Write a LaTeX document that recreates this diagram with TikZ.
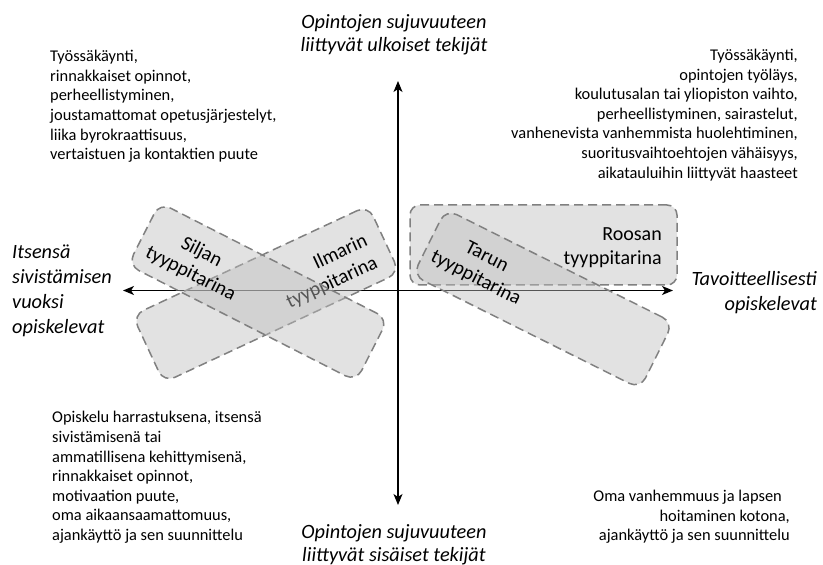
\documentclass[tikz,border=0pt]{standalone}
\usepackage{fontspec}
\setmainfont{Carlito}
\usetikzlibrary{arrows.meta}
\definecolor{shapefill}{RGB}{190,190,190}
\definecolor{shapeline}{RGB}{128,128,128}
\begin{document}
\begin{tikzpicture}[x=1pt,y=1pt,
  typebox/.style={draw=shapeline, line width=1.5pt, dash pattern=on 9pt off 5pt, fill=shapefill, fill opacity=0.45, draw opacity=1, rounded corners=12pt, rectangle, inner sep=0pt},
  typetext/.style={font=\fontsize{20}{24}\selectfont, inner sep=0pt, text=black},
  body/.style={font=\fontsize{16.4}{19.6}\selectfont, inner sep=0pt},
  axislabel/.style={font=\fontsize{20.3}{25}\selectfont\itshape, inner sep=0pt},
  titlelabel/.style={font=\fontsize{20.3}{23.3}\selectfont\itshape, inner sep=0pt, align=center},
  axisline/.style={line width=1.4pt, {Stealth[length=11pt,width=9pt,inset=3pt]}-{Stealth[length=11pt,width=9pt,inset=3pt]}}]
\useasboundingbox (0,0) rectangle (823,565);

% axes
\coordinate (vtop) at (398,484);
\coordinate (vbot) at (398,60);
\coordinate (hleft) at (123,274.5);
\coordinate (hright) at (673,274.5);
\draw[axisline] (vbot) -- (vtop);
\draw[axisline] (hleft) -- (hright);

% type stories
\node[typebox, minimum width=267pt, minimum height=80pt, rounded corners=10pt] (roosan) at (543.5,320) {};
\node[typetext, align=right, anchor=east] (roosantext) at (662,317.5) {Roosan\\tyyppitarina};
\node[typebox, minimum width=254pt, minimum height=74pt, rotate=-26.5] (tarun) at (543,266) {};
\node[typetext, align=center, rotate=-27] (taruntext) at (481,297) {Tarun\\tyyppitarina};
\node[typebox, minimum width=260pt, minimum height=74pt, rotate=25] (ilmarin) at (266,271) {};
\node[typetext, align=right, rotate=25] (ilmarintext) at (327,293) {Ilmarin\\tyyppitarina};
\node[typebox, minimum width=256pt, minimum height=70pt, rotate=-27] (siljan) at (258,273) {};
\node[typetext, align=center, rotate=-27] (siljantext) at (196,302) {Siljan\\tyyppitarina};

% axis labels
\node[titlelabel] (toptitle) at (394,530) {Opintojen sujuvuuteen\\liittyvät ulkoiset tekijät};
\node[titlelabel] (bottomtitle) at (394,20.5) {Opintojen sujuvuuteen\\liittyvät sisäiset tekijät};
\node[axislabel, align=left, anchor=west] (leftlabel) at (12,274.5) {Itsensä\\sivistämisen\\vuoksi\\opiskelevat};
\node[axislabel, align=right, anchor=east] (rightlabel) at (817,272.5) {Tavoitteellisesti\\opiskelevat};

% quadrant texts
\node[body, align=left, anchor=west] (topleft) at (50,458.5) {Työssäkäynti,\\rinnakkaiset opinnot,\\perheellistyminen,\\joustamattomat opetusjärjestelyt,\\liika byrokraattisuus,\\vertaistuen ja kontaktien puute};
\node[body, align=right, anchor=east] (topright) at (798,450) {Työssäkäynti,\\opintojen työläys,\\koulutusalan tai yliopiston vaihto,\\perheellistyminen, sairastelut,\\vanhenevista vanhemmista huolehtiminen,\\suoritusvaihtoehtojen vähäisyys,\\aikatauluihin liittyvät haasteet};
\node[body, align=left, anchor=west] (bottomleft) at (52,87.5) {Opiskelu harrastuksena, itsensä\\sivistämisenä tai\\ammatillisena kehittymisenä,\\rinnakkaiset opinnot,\\motivaation puute,\\oma aikaansaamattomuus,\\ajankäyttö ja sen suunnittelu};
\node[body, align=right, anchor=east] (bottomright) at (790,48) {Oma vanhemmuus ja lapsen\hspace*{8pt}\\hoitaminen kotona,\\ajankäyttö ja sen suunnittelu};
\end{tikzpicture}
\end{document}
